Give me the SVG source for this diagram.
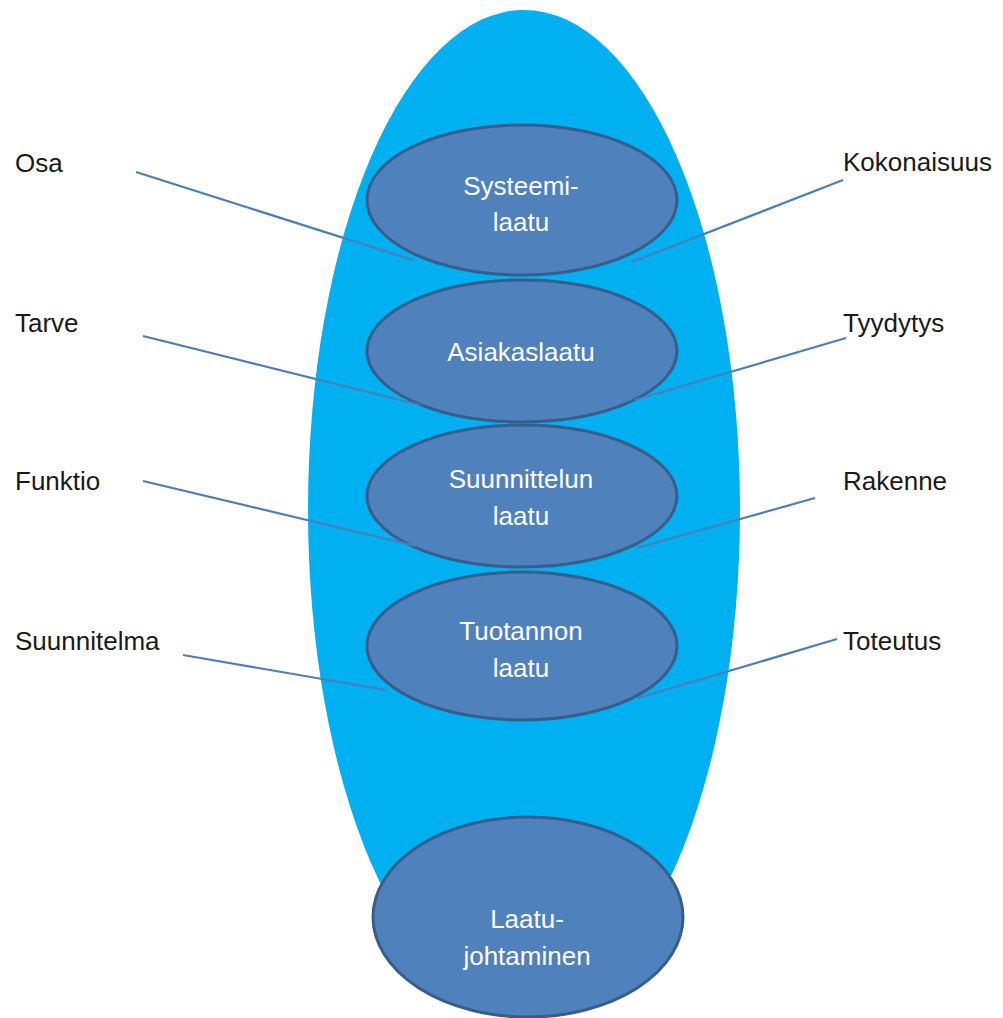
<svg xmlns="http://www.w3.org/2000/svg" width="1003" height="1018" viewBox="0 0 1003 1018">
<style>
.node{fill:#4F81BD;stroke:#385D8A;stroke-width:3}
.in{font-family:"Liberation Sans",Arial,sans-serif;font-size:26px;fill:#FFFFFF;text-anchor:middle}
.lbl{font-family:"Liberation Sans",Arial,sans-serif;font-size:26px;fill:#1A1A1A}
.con line{stroke:#4A7EBB;stroke-width:2.2;fill:none}
</style>
<rect width="1003" height="1018" fill="#FFFFFF"/>
<g id="outer"><ellipse cx="524" cy="510" rx="216" ry="500" fill="#00B0F0"/></g>
<g id="systeemilaatu"><ellipse class="node" cx="522" cy="200" rx="155" ry="75"/><text class="in" x="521" y="195">Systeemi-</text><text class="in" x="521" y="231">laatu</text></g>
<g id="asiakaslaatu"><ellipse class="node" cx="522" cy="351" rx="155" ry="71"/><text class="in" x="521" y="361">Asiakaslaatu</text></g>
<g id="suunnittelun"><ellipse class="node" cx="522" cy="496" rx="155" ry="71"/><text class="in" x="521" y="488">Suunnittelun</text><text class="in" x="521" y="525">laatu</text></g>
<g id="tuotannon"><ellipse class="node" cx="522" cy="646" rx="155" ry="74"/><text class="in" x="521" y="640">Tuotannon</text><text class="in" x="521" y="677">laatu</text></g>
<g id="laatujohtaminen"><ellipse class="node" cx="528" cy="917" rx="155" ry="100"/><text class="in" x="527" y="928">Laatu-</text><text class="in" x="527" y="965">johtaminen</text></g>
<g id="labels">
<text class="lbl" x="15" y="172">Osa</text>
<text class="lbl" x="15" y="332">Tarve</text>
<text class="lbl" x="15" y="490">Funktio</text>
<text class="lbl" x="15" y="650">Suunnitelma</text>
<text class="lbl" x="843" y="171">Kokonaisuus</text>
<text class="lbl" x="843" y="332">Tyydytys</text>
<text class="lbl" x="843" y="490">Rakenne</text>
<text class="lbl" x="843" y="650">Toteutus</text>
</g>
<g id="connectors" class="con">
<line x1="136" y1="172" x2="413" y2="260"/>
<line x1="143" y1="336" x2="420" y2="405"/>
<line x1="143" y1="481" x2="416" y2="546"/>
<line x1="183" y1="655" x2="386" y2="690"/>
<line x1="843" y1="180" x2="632" y2="262"/>
<line x1="846" y1="338" x2="635" y2="400"/>
<line x1="815" y1="498" x2="637" y2="548"/>
<line x1="837" y1="639" x2="638" y2="698"/>
</g>
</svg>
